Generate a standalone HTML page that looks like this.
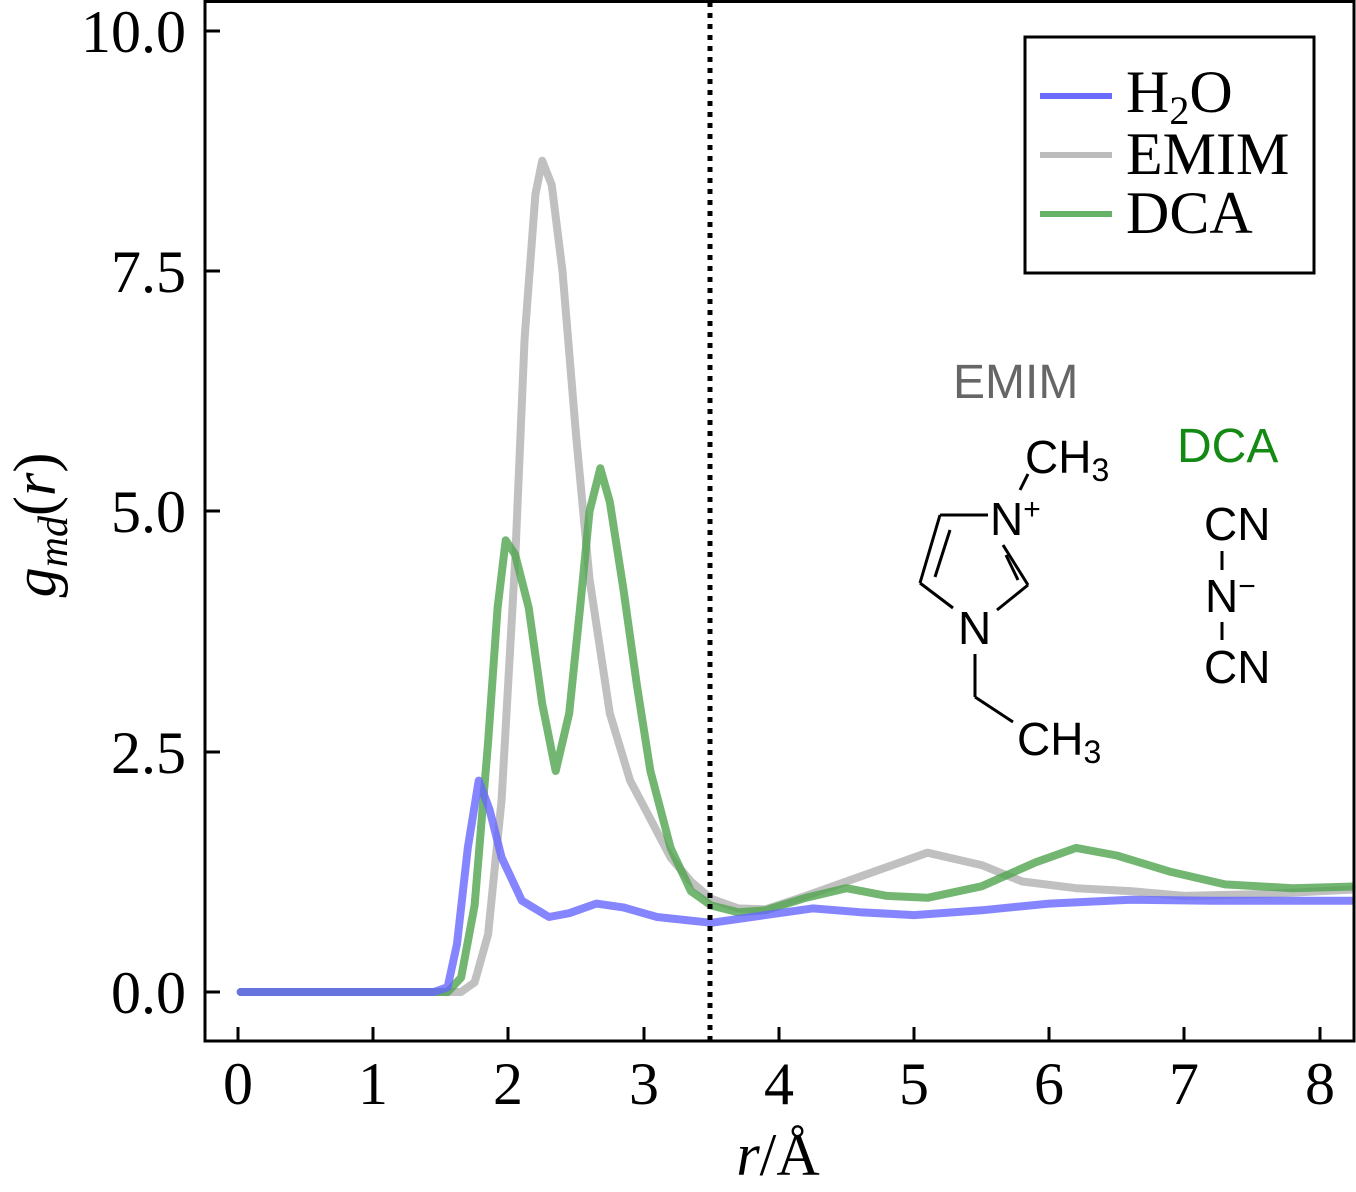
<!DOCTYPE html>
<html><head><meta charset="utf-8"><style>
html,body{margin:0;padding:0;background:#fff;}
svg{display:block;}
.t{font-family:"Liberation Serif",serif;font-size:60px;fill:#000;}
.s{font-family:"Liberation Sans","DejaVu Sans",sans-serif;fill:#000;}
</style></head><body>
<svg width="1356" height="1192" viewBox="0 0 1356 1192" xmlns="http://www.w3.org/2000/svg">
<defs><clipPath id="cp"><rect x="205" y="1" width="1149" height="1040"/></clipPath></defs>
<rect width="1356" height="1192" fill="#fff"/>
<g clip-path="url(#cp)" fill="none" stroke-linejoin="round" stroke-linecap="round" stroke-width="8" stroke-opacity="0.8">
<polyline stroke="#b0b0b0" points="240.7,992 461,992 474.6,982.4 488.1,934.3 501.6,799.8 515.2,559.5 524.6,338.5 535.4,194.4 542.2,160.7 551.7,184.8 562.5,271.3 576,434.6 589.5,578.8 609.8,713.3 630.1,780.6 650.4,819 670.6,857.5 690.9,881.5 711.2,898.8 738.2,908.4 765.3,909.4 805.8,895.9 859.9,876.7 927.5,852.7 981.6,865.1 1022.2,881.5 1076.2,888.2 1130.3,891.1 1184.4,895.9 1265.5,894 1360,889.2"/>
<polyline stroke="#4fa44f" points="240.7,992 447.6,992 461.1,977.6 474.6,905.5 488.1,742.1 497.6,607.6 505.7,540.3 515.2,554.7 528.7,607.6 542.2,703.7 555.7,771 569.2,713.3 580.1,607.6 589.5,511.5 600.3,468.3 609.8,501.9 623.3,588.4 636.8,684.5 650.4,771 670.6,847.9 690.9,891.1 711.2,905.5 738.2,912.2 765.3,910.3 805.8,897.8 846.4,888.2 887,895.9 927.5,897.8 981.6,886.3 1035.7,862.3 1076.2,847.9 1116.8,855.5 1170.9,871.9 1225,884.4 1292.6,888.2 1360,886.3"/>
<polyline stroke="#6666ff" points="240.7,992 434,992 447.6,987.2 457,944 467.8,847.9 478.7,780.6 489.5,809.4 501.6,857.5 521.9,900.7 549,917 569.2,913.2 596.3,903.6 623.3,907.4 657.1,917 711.2,922.8 765.3,915.1 812.6,908.4 859.9,912.2 914,915.1 981.6,910.3 1049.2,903.6 1130.3,899.7 1211.4,900.7 1360,900.7"/>
</g>
<line x1="710" y1="2" x2="710" y2="1040" stroke="#000" stroke-width="5" stroke-dasharray="5 6"/>
<rect x="205" y="1.5" width="1149" height="1039.5" fill="none" stroke="#000" stroke-width="3"/>
<g stroke="#000" stroke-width="3">
<line x1="205" y1="31" x2="220" y2="31"/><line x1="205" y1="271" x2="220" y2="271"/>
<line x1="205" y1="511" x2="220" y2="511"/><line x1="205" y1="752" x2="220" y2="752"/>
<line x1="205" y1="992" x2="220" y2="992"/>
<line x1="238" y1="1041" x2="238" y2="1027"/><line x1="373" y1="1041" x2="373" y2="1027"/>
<line x1="508" y1="1041" x2="508" y2="1027"/><line x1="644" y1="1041" x2="644" y2="1027"/>
<line x1="779" y1="1041" x2="779" y2="1027"/><line x1="914" y1="1041" x2="914" y2="1027"/>
<line x1="1049" y1="1041" x2="1049" y2="1027"/><line x1="1184" y1="1041" x2="1184" y2="1027"/>
<line x1="1320" y1="1041" x2="1320" y2="1027"/>
</g>
<g class="t" text-anchor="end">
<text x="186" y="52">10.0</text><text x="186" y="292">7.5</text>
<text x="186" y="532">5.0</text><text x="186" y="773">2.5</text><text x="186" y="1013">0.0</text>
</g>
<g class="t" text-anchor="middle">
<text x="238" y="1104">0</text><text x="373" y="1104">1</text><text x="508" y="1104">2</text>
<text x="644" y="1104">3</text><text x="779" y="1104">4</text><text x="914" y="1104">5</text>
<text x="1049" y="1104">6</text><text x="1184" y="1104">7</text><text x="1320" y="1104">8</text>
<text x="778" y="1175"><tspan font-style="italic">r</tspan>/Å</text>
</g>
<text class="t" transform="translate(55,525) rotate(-90)" text-anchor="middle"><tspan font-style="italic">g</tspan><tspan font-style="italic" font-size="42" dy="12">md</tspan><tspan dy="-12">(</tspan><tspan font-style="italic">r</tspan>)</text>
<rect x="1025" y="37" width="289" height="236" fill="#fff" stroke="#000" stroke-width="3"/>
<line x1="1040" y1="96" x2="1112" y2="96" stroke="#6b6bff" stroke-width="6"/>
<line x1="1040" y1="155" x2="1112" y2="155" stroke="#bcbcbc" stroke-width="6"/>
<line x1="1040" y1="214" x2="1112" y2="214" stroke="#66b266" stroke-width="6"/>
<g class="t">
<text x="1126" y="112">H<tspan font-size="40" dy="12">2</tspan><tspan dy="-12">O</tspan></text>
<text x="1126" y="174">EMIM</text>
<text x="1126" y="233">DCA</text>
</g>
<text class="s" x="953" y="398" font-size="48" style="fill:#666">EMIM</text>
<text class="s" x="1177" y="462" font-size="48" style="fill:#138a13">DCA</text>
<g stroke="#000" stroke-width="3" fill="none">
<line x1="940" y1="515" x2="988" y2="515"/>
<line x1="1003" y1="545" x2="1028" y2="585"/>
<line x1="1006" y1="555" x2="1018" y2="580"/>
<line x1="1028" y1="585" x2="997" y2="610"/>
<line x1="953" y1="608" x2="920" y2="583"/>
<line x1="920" y1="583" x2="940" y2="515"/>
<line x1="950" y1="530" x2="935" y2="577"/>
<line x1="975" y1="654" x2="975" y2="697"/>
<line x1="975" y1="697" x2="1013" y2="722"/>
<line x1="1020" y1="490" x2="1028" y2="474"/>
<line x1="1222" y1="551" x2="1222" y2="570"/>
<line x1="1222" y1="622" x2="1222" y2="640"/>
</g>
<g class="s" font-size="46">
<text x="990" y="535">N<tspan font-size="30" dy="-16">+</tspan></text>
<text x="958" y="644">N</text>
<text x="1025" y="473">CH<tspan font-size="32" dy="8">3</tspan></text>
<text x="1017" y="755">CH<tspan font-size="32" dy="8">3</tspan></text>
<text x="1204" y="540">CN</text>
<text x="1205" y="612">N<tspan font-size="30" dy="-16">−</tspan></text>
<text x="1204" y="683">CN</text>
</g>
</svg>
</body></html>
